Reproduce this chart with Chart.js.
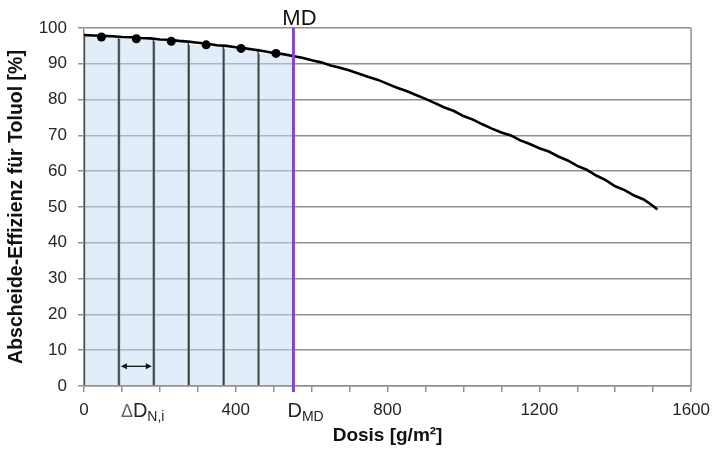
<!DOCTYPE html>
<html>
<head>
<meta charset="utf-8">
<script src="https://cdn.jsdelivr.net/npm/chart.js@4.4.1/dist/chart.umd.min.js"></script>
<style>
  html, body { margin: 0; padding: 0; background: #fff; }
  #wrap { width: 718px; height: 455px; position: relative; }
</style>
</head>
<body>
<div id="wrap"><canvas id="chart"></canvas></div>
<script>
// measured efficiency curve (dose in g/m², efficiency in %)
const curveDose = [0, 25, 50, 75, 100, 125, 150, 175, 200, 225, 250, 275, 300, 325, 350, 375,
  400, 425, 450, 475, 500, 525, 550, 575, 600, 625, 650, 675, 700, 725, 750, 775,
  800, 825, 850, 875, 900, 925, 950, 975, 1000, 1025, 1050, 1075, 1100, 1125, 1150, 1175,
  1200, 1225, 1250, 1275, 1300, 1325, 1350, 1375, 1400, 1425, 1450, 1475, 1500, 1511];
const curveEff = [98.0, 97.9, 97.8, 97.7, 97.5, 97.4, 97.2, 97.1, 96.8, 96.7, 96.4, 96.2, 95.9, 95.6, 95.2, 95.0,
  94.6, 94.3, 93.9, 93.5, 93.0, 92.7, 92.2, 91.7, 91.0, 90.4, 89.5, 88.9, 88.1, 87.2, 86.3, 85.5,
  84.4, 83.3, 82.4, 81.3, 80.2, 79.0, 77.8, 76.8, 75.4, 74.4, 73.1, 71.9, 70.8, 70.0, 68.6, 67.6,
  66.4, 65.5, 64.1, 63.0, 61.5, 60.4, 58.8, 57.5, 55.8, 54.7, 53.2, 52.1, 50.3, 49.3];

// sample points at the centre of each dose interval ΔD_N,i
const sampleDose = [46, 138, 230, 322, 414, 506];
const sampleEff = [97.5, 97.0, 96.3, 95.3, 94.3, 92.9];

// maximum dose D_MD and the interval used for the ΔD arrow
const mdDose = 552;
const arrowFrom = 92;
const arrowTo = 184;
const arrowEff = 5.5;

const xLabelValues = [0, 400, 800, 1200, 1600];

const GRID = '#909090';
const TEXT = '#262626';

// extra drawing: MD line, right frame, arrow and the D labels
const annotations = {
  id: 'annotations',
  afterDatasetsDraw(chart) {
    const { ctx, chartArea, scales: { x, y } } = chart;
    const mdX = x.getPixelForValue(mdDose);
    ctx.save();

    // right frame
    ctx.strokeStyle = GRID;
    ctx.lineWidth = 1.5;
    ctx.beginPath();
    ctx.moveTo(chartArea.right, chartArea.top);
    ctx.lineTo(chartArea.right, chartArea.bottom);
    ctx.stroke();

    // MD line
    ctx.strokeStyle = '#8547c9';
    ctx.lineWidth = 3;
    ctx.beginPath();
    ctx.moveTo(mdX, chartArea.top);
    ctx.lineTo(mdX, chartArea.bottom + 6);
    ctx.stroke();

    // double arrow for ΔD
    const a1 = x.getPixelForValue(arrowFrom) + 2;
    const a2 = x.getPixelForValue(arrowTo) - 2;
    const ay = y.getPixelForValue(arrowEff);
    ctx.strokeStyle = '#111';
    ctx.fillStyle = '#111';
    ctx.lineWidth = 1.3;
    ctx.beginPath();
    ctx.moveTo(a1 + 3, ay);
    ctx.lineTo(a2 - 3, ay);
    ctx.stroke();
    ctx.beginPath();
    ctx.moveTo(a1, ay); ctx.lineTo(a1 + 6, ay - 3); ctx.lineTo(a1 + 6, ay + 3); ctx.closePath();
    ctx.moveTo(a2, ay); ctx.lineTo(a2 - 6, ay - 3); ctx.lineTo(a2 - 6, ay + 3); ctx.closePath();
    ctx.fill();

    // labels
    ctx.textBaseline = 'alphabetic';
    ctx.textAlign = 'center';
    ctx.fillStyle = '#111';
    ctx.font = '22px "Liberation Sans", Arial, sans-serif';
    ctx.fillText('MD', mdX + 6, chartArea.top - 3);

    const base = chartArea.bottom + 31;
    ctx.textAlign = 'left';
    // D_MD
    let tx = mdX - 6;
    ctx.font = '20px "Liberation Sans", Arial, sans-serif';
    ctx.fillStyle = TEXT;
    ctx.fillText('D', tx, base);
    tx += ctx.measureText('D').width;
    ctx.font = '14px "Liberation Sans", Arial, sans-serif';
    ctx.fillText('MD', tx, base + 4);

    // ΔD_N,i
    tx = x.getPixelForValue(arrowFrom) + 2;
    ctx.font = '18px "Liberation Sans", Arial, sans-serif';
    ctx.fillStyle = '#666';
    ctx.fillText('Δ', tx, base);
    tx += ctx.measureText('Δ').width;
    ctx.font = '20px "Liberation Sans", Arial, sans-serif';
    ctx.fillStyle = TEXT;
    ctx.fillText('D', tx, base);
    tx += ctx.measureText('D').width;
    ctx.font = '14px "Liberation Sans", Arial, sans-serif';
    ctx.fillText('N,i', tx, base + 4);

    ctx.restore();
  }
};

new Chart(document.getElementById('chart'), {
  type: 'line',
  data: {
    datasets: [
      {
        // sample dots
        data: sampleDose.map((d, i) => ({ x: d, y: sampleEff[i] })),
        showLine: false,
        pointRadius: 4.5,
        pointBackgroundColor: '#000',
        pointBorderColor: '#000',
        pointBorderWidth: 0,
        order: 0
      },
      {
        // measured curve
        data: curveDose.map((d, i) => ({ x: d, y: curveEff[i] })),
        borderColor: '#000',
        borderWidth: 2.6,
        pointRadius: 0,
        tension: 0,
        fill: false,
        order: 1
      },
      {
        // shaded dose intervals
        type: 'bar',
        data: sampleDose.map((d, i) => ({ x: d, y: sampleEff[i] })),
        backgroundColor: 'rgba(196,220,244,0.5)',
        borderColor: '#3a3a3a',
        borderWidth: { left: 1, right: 1, top: 0, bottom: 0 },
        barPercentage: 1,
        categoryPercentage: 1,
        grouped: false,
        order: 2
      }
    ]
  },
  options: {
    responsive: true,
    maintainAspectRatio: false,
    animation: false,
    layout: { padding: { top: 28, right: 24, bottom: 0, left: 0 } },
    plugins: {
      legend: { display: false },
      tooltip: { enabled: false }
    },
    scales: {
      x: {
        type: 'linear',
        min: 0,
        max: 1600,
        offset: false,
        afterFit: s => { s.height = 69; },
        ticks: {
          stepSize: 100,
          autoSkip: false,
          maxRotation: 0,
          padding: 8,
          color: TEXT,
          font: { family: '"Liberation Sans", Arial, sans-serif', size: 17 },
          callback: v => xLabelValues.includes(v) ? String(v) : ''
        },
        grid: {
          offset: false,
          drawOnChartArea: false,
          tickLength: 6,
          tickColor: GRID,
          lineWidth: 1.5
        },
        border: { color: GRID, width: 1.5 },
        title: {
          display: true,
          text: 'Dosis [g/m²]',
          color: '#111',
          font: { family: '"Liberation Sans", Arial, sans-serif', size: 19, weight: 'bold' },
          padding: { top: 0, bottom: 8 }
        }
      },
      y: {
        min: 0,
        max: 100,
        afterFit: s => { s.width = 84; },
        ticks: {
          stepSize: 5,
          padding: 11,
          color: TEXT,
          font: { family: '"Liberation Sans", Arial, sans-serif', size: 17 },
          callback: v => v % 10 === 0 ? String(v) : ''
        },
        grid: {
          color: c => (c.tick && c.tick.value % 10 === 0) ? GRID : 'rgba(0,0,0,0)',
          tickColor: GRID,
          tickLength: 6,
          lineWidth: 1.5
        },
        border: { color: GRID, width: 1.5 },
        title: {
          display: true,
          text: 'Abscheide-Effizienz für Toluol [%]',
          color: '#111',
          font: { family: '"Liberation Sans", Arial, sans-serif', size: 19.5, weight: 'bold' },
          padding: { top: 5, bottom: 0 }
        }
      }
    }
  },
  plugins: [annotations]
});
</script>
</body>
</html>
